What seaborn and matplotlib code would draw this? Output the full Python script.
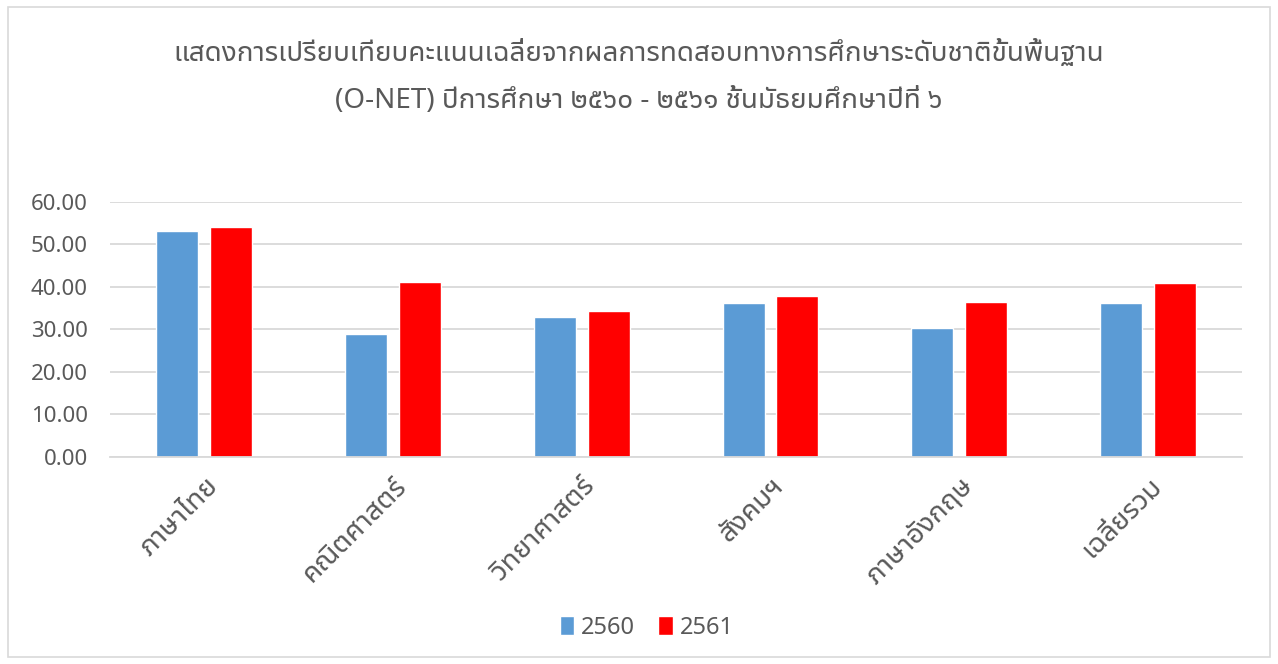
import matplotlib
matplotlib.use("Agg")
import matplotlib.pyplot as plt
from matplotlib.patches import Rectangle
import seaborn as sns
import pandas as pd

subjects = ["ภาษาไทย", "คณิตศาสตร์", "วิทยาศาสตร์", "สังคมฯ", "ภาษาอังกฤษ", "เฉลี่ยรวม"]
years = ["2560", "2561"]
scores_2560 = [53.1, 28.8, 33.0, 36.2, 30.3, 36.3]
scores_2561 = [54.2, 41.2, 34.3, 37.9, 36.5, 40.8]
yticks = [0, 10, 20, 30, 40, 50, 60]
title = ("แสดงการเปรียบเทียบคะแนนเฉลี่ยจากผลการทดสอบทางการศึกษาระดับชาติขั้นพื้นฐาน\n"
         "(O-NET) ปีการศึกษา ๒๕๖๐ - ๒๕๖๑ ชั้นมัธยมศึกษาปีที่ ๖")

df = pd.DataFrame({
    "subject": subjects * 2,
    "year": [years[0]] * len(subjects) + [years[1]] * len(subjects),
    "score": scores_2560 + scores_2561,
})

sns.set_theme(style="white")
plt.rcParams["font.family"] = ["Noto Sans", "Noto Sans Thai UI", "DejaVu Sans"]
grey = "#595959"

fig = plt.figure(figsize=(12.78, 6.64), dpi=100)
ax = fig.add_axes([0.086, 0.312, 0.886, 0.384])

sns.barplot(data=df, x="subject", y="score", hue="year",
            palette=["#5B9BD5", "#FF0000"], width=0.57, gap=0.22,
            saturation=1, ax=ax, legend=True)

ax.set_ylim(0, 60)
ax.set_yticks(yticks)
ax.set_yticklabels([f"{v:.2f}" for v in yticks], fontsize=16, color=grey)
ax.yaxis.grid(True, color="#d9d9d9", linewidth=1.3)
ax.set_axisbelow(True)
for s in ["top", "right", "left"]:
    ax.spines[s].set_visible(False)
ax.spines["bottom"].set_color("#d9d9d9")
ax.spines["bottom"].set_linewidth(1.3)
ax.tick_params(axis="y", length=0, pad=16)
ax.tick_params(axis="x", length=0, pad=11)
ax.set_xlabel("")
ax.set_ylabel("")
plt.setp(ax.get_xticklabels(), rotation=45, ha="right", rotation_mode="anchor",
         fontsize=20, color=grey)

ax.legend(loc="upper center", bbox_to_anchor=(0.474, -0.54), ncol=2, frameon=False,
          fontsize=17, labelcolor=grey, handlelength=0.6, handleheight=0.9,
          handletextpad=0.3, columnspacing=1.0)

fig.suptitle(title, y=0.94, fontsize=20, color=grey, linespacing=1.9)

fig.patches.append(Rectangle((0.006, 0.01), 0.988, 0.98, transform=fig.transFigure,
                             fill=False, edgecolor="#d9d9d9", linewidth=1.2))

fig.savefig("out.png", dpi=100)
